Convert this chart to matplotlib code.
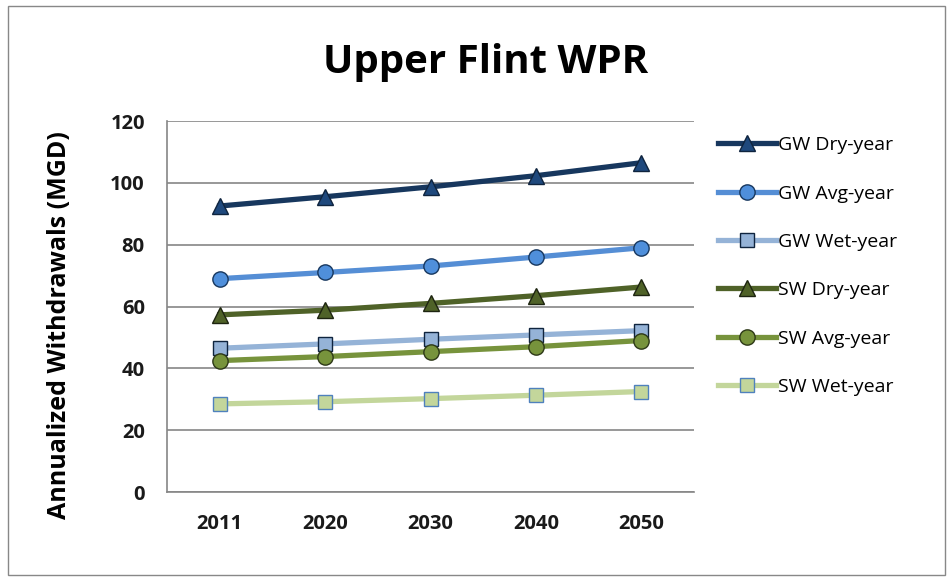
import matplotlib
matplotlib.use("Agg")
import matplotlib.pyplot as plt
from matplotlib.patches import Rectangle

years = ["2011", "2020", "2030", "2040", "2050"]
gw_dry = [92.5, 95.5, 98.7, 102.3, 106.5]
gw_avg = [69.0, 71.0, 73.1, 76.0, 79.0]
gw_wet = [46.5, 47.9, 49.4, 50.8, 52.2]
sw_dry = [57.3, 58.8, 61.0, 63.5, 66.3]
sw_avg = [42.5, 43.8, 45.4, 47.0, 49.0]
sw_wet = [28.5, 29.2, 30.2, 31.3, 32.5]
series_names = ["GW Dry-year", "GW Avg-year", "GW Wet-year",
                "SW Dry-year", "SW Avg-year", "SW Wet-year"]

plt.rcParams['font.family'] = ['Open Sans', 'DejaVu Sans']

fig = plt.figure(figsize=(9.53, 5.81), dpi=100)
fig.patches.append(Rectangle((8/953, 6/581), 937/953, 569/581, transform=fig.transFigure,
                             fill=False, edgecolor='#888888', linewidth=1.0))
ax = fig.add_axes([167/953, 89/581, 527/953, 371/581])

styles = [
    dict(color='#17375E', marker='^', mfc='#1F497D', mec='#0F243E', ms=11),
    dict(color='#558ED5', marker='o', mfc='#4F8FDB', mec='#17375E', ms=11),
    dict(color='#95B3D7', marker='s', mfc='#95B3D7', mec='#0F243E', ms=10),
    dict(color='#4F6228', marker='^', mfc='#4F6228', mec='#1D2410', ms=11),
    dict(color='#77933C', marker='o', mfc='#77933C', mec='#2D3817', ms=11),
    dict(color='#C3D69B', marker='s', mfc='#C3D69B', mec='#4F81BD', ms=10),
]
data = [gw_dry, gw_avg, gw_wet, sw_dry, sw_avg, sw_wet]
x = list(range(len(years)))
for name, vals, st in zip(series_names, data, styles):
    ax.plot(x, vals, label=name, linewidth=3.8, color=st['color'], marker=st['marker'],
            markerfacecolor=st['mfc'], markeredgecolor=st['mec'], markersize=st['ms'],
            markeredgewidth=1.0)

ax.set_xlim(-0.5, len(years) - 0.5)
ax.set_ylim(0, 120)
ax.set_yticks(range(0, 121, 20))
ax.set_xticks(x)
ax.set_xticklabels(years)
ax.yaxis.grid(True, color='#868686', linewidth=1.2)
ax.set_axisbelow(True)
for s in ['top', 'right']:
    ax.spines[s].set_visible(False)
for s in ['left', 'bottom']:
    ax.spines[s].set_color('#868686')
    ax.spines[s].set_linewidth(1.2)
ax.tick_params(axis='both', length=0, labelsize=14.5, colors='#1a1a1a')
for lab in ax.get_xticklabels() + ax.get_yticklabels():
    lab.set_fontweight('bold')
ax.tick_params(axis='x', pad=16)
ax.tick_params(axis='y', pad=16)

ax.set_ylabel("Annualized Withdrawals (MGD)", fontsize=18, fontweight='bold')
ax.yaxis.set_label_coords(-0.18, 0.45)
fig.text(486/953, 1 - 62/581, "Upper Flint WPR", ha='center', va='center',
         fontsize=29, fontweight='bold')

leg = ax.legend(loc='upper left', bbox_to_anchor=(1.03, 0.98), frameon=False,
                fontsize=14, labelspacing=1.56, handlelength=3.0, handletextpad=0.1,
                borderaxespad=0)

fig.savefig("out.png", dpi=100, facecolor='white')
